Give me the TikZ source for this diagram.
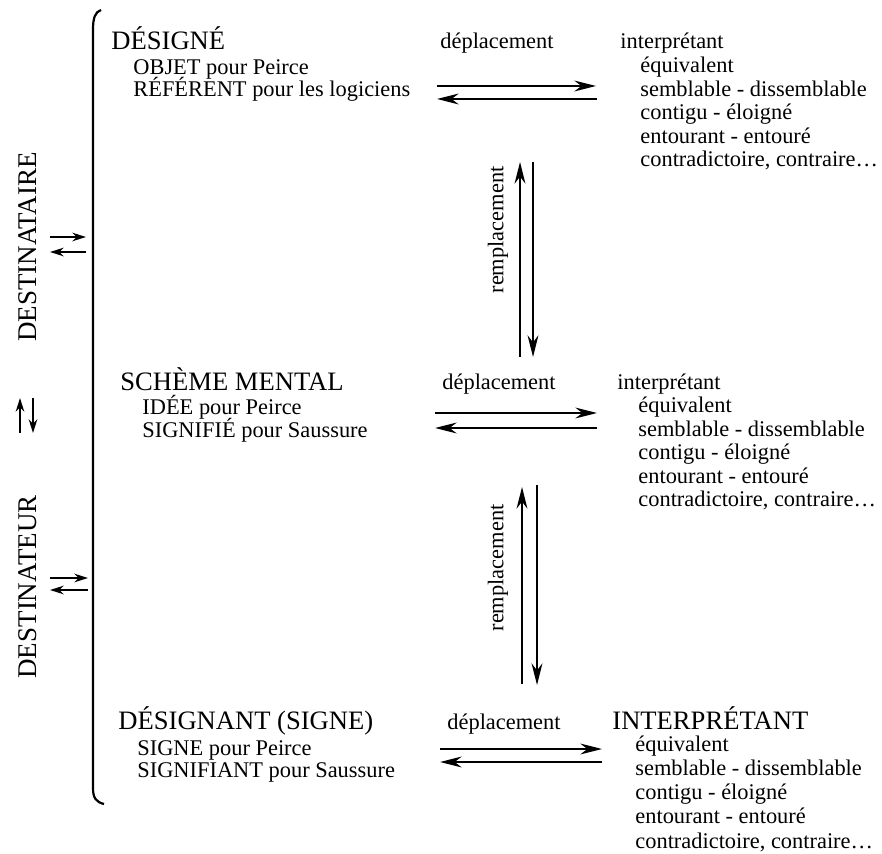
\documentclass[tikz,border=0pt]{standalone}
\usepackage{fontspec}
\setmainfont{Liberation Serif}
\usepackage{tikz}
\usetikzlibrary{arrows.meta}
\usetikzlibrary{calc}
\newcommand{\drawarrow}{\draw[line width=1.1pt, -{Stealth[length=3.8mm, width=1.9mm]}]}
\newcommand{\drawsmall}{\draw[line width=1.1pt, -{Stealth[length=2.4mm, width=1.5mm]}]}

\begin{document}
\begin{tikzpicture}[x=0.5pt, y=-0.5pt,
    head/.style={font=\fontsize{13.3}{15}\selectfont, anchor=base west, inner sep=0pt},
    item/.style={font=\fontsize{11.2}{13}\selectfont, anchor=base west, inner sep=0pt},
    side/.style={font=\fontsize{13.5}{16}\selectfont, rotate=90, inner sep=0pt},
    vlabel/.style={font=\fontsize{11.2}{13}\selectfont, rotate=90, inner sep=0pt}]
    \useasboundingbox (0,0) rectangle (882,854);

    % Draw bracket
    \coordinate (btop) at (101,10);
    \coordinate (bbot) at (104,804);
    \draw[line width=1.1pt] (btop) .. controls (95,12) and (93,18) .. (93,30)
        -- (93,788) .. controls (93,798) and (96,802) .. (bbot);

    \node[side] (destinataire) at (28,247) {DESTINATAIRE};
    \node[side] (destinateur) at (28,587) {DESTINATEUR};

    % Draw small arrows
    \coordinate (sa1) at (50,237);  \coordinate (sa2) at (86,237);
    \coordinate (sa3) at (86,252);  \coordinate (sa4) at (50,252);
    \coordinate (sb1) at (20,433);  \coordinate (sb2) at (20,398);
    \coordinate (sb3) at (33,398);  \coordinate (sb4) at (33,433);
    \coordinate (sc1) at (50,578);  \coordinate (sc2) at (88,578);
    \coordinate (sc3) at (88,590);  \coordinate (sc4) at (50,590);
    \drawsmall (sa1) -- (sa2);
    \drawsmall (sa3) -- (sa4);
    \drawsmall (sb1) -- (sb2);
    \drawsmall (sb3) -- (sb4);
    \drawsmall (sc1) -- (sc2);
    \drawsmall (sc3) -- (sc4);

    % Row 1
    \node[head] (designe) at (111,50) {DÉSIGNÉ};
    \node[item] (objet) at (133,75) {OBJET pour Peirce};
    \node[item] (referent) at (133,97) {RÉFÉRENT pour les logiciens};
    \node[item] (dep1) at (440,49) {déplacement};
    \node[item] (int1) at (620,49) {interprétant};
    \foreach \t [count=\i] in {équivalent, semblable - dissemblable, contigu - éloigné, entourant - entouré, {contradictoire, contraire…}} {
        \node[item] (int1-\i) at (640,{73+23.5*(\i-1)}) {\t};
    }

    % Row 2
    \node[head] (scheme) at (120,391) {SCHÈME MENTAL};
    \node[item] (idee) at (142,415) {IDÉE pour Peirce};
    \node[item] (signifie) at (142,438) {SIGNIFIÉ pour Saussure};
    \node[item] (dep2) at (442,390) {déplacement};
    \node[item] (int2) at (617,390) {interprétant};
    \foreach \t [count=\i] in {équivalent, semblable - dissemblable, contigu - éloigné, entourant - entouré, {contradictoire, contraire…}} {
        \node[item] (int2-\i) at (638,{413+23.5*(\i-1)}) {\t};
    }

    % Row 3
    \node[head] (designant) at (118,729) {DÉSIGNANT (SIGNE)};
    \node[item] (signe) at (137,755) {SIGNE pour Peirce};
    \node[item] (signifiant) at (137,777) {SIGNIFIANT pour Saussure};
    \node[item] (dep3) at (447,729) {déplacement};
    \node[head] (int3) at (612,729) {INTERPRÉTANT};
    \foreach \t [count=\i] in {équivalent, semblable - dissemblable, contigu - éloigné, entourant - entouré, {contradictoire, contraire…}} {
        \node[item] (int3-\i) at (635,{751+24.3*(\i-1)}) {\t};
    }

    % Draw deplacement arrows
    \coordinate (h1a) at (437,86);  \coordinate (h1b) at (596,86);
    \coordinate (h1c) at (597,99);  \coordinate (h1d) at (437,99);
    \coordinate (h2a) at (435,413); \coordinate (h2b) at (597,413);
    \coordinate (h2c) at (597,428); \coordinate (h2d) at (435,428);
    \coordinate (h3a) at (440,749); \coordinate (h3b) at (602,749);
    \coordinate (h3c) at (602,762); \coordinate (h3d) at (440,762);
    \drawarrow (h1a) -- (h1b);
    \drawarrow (h1c) -- (h1d);
    \drawarrow (h2a) -- (h2b);
    \drawarrow (h2c) -- (h2d);
    \drawarrow (h3a) -- (h3b);
    \drawarrow (h3c) -- (h3d);

    % Draw remplacement arrows
    \coordinate (v1a) at (520,357); \coordinate (v1b) at (520,162);
    \coordinate (v1c) at (533,162); \coordinate (v1d) at (533,357);
    \coordinate (v2a) at (522,684); \coordinate (v2b) at (522,487);
    \coordinate (v2c) at (537,485); \coordinate (v2d) at (537,685);
    \drawarrow (v1a) -- (v1b);
    \drawarrow (v1c) -- (v1d);
    \drawarrow (v2a) -- (v2b);
    \drawarrow (v2c) -- (v2d);

    \node[vlabel] (rem1) at (498,230) {remplacement};
    \node[vlabel] (rem2) at (498,568) {remplacement};
\end{tikzpicture}
\end{document}
